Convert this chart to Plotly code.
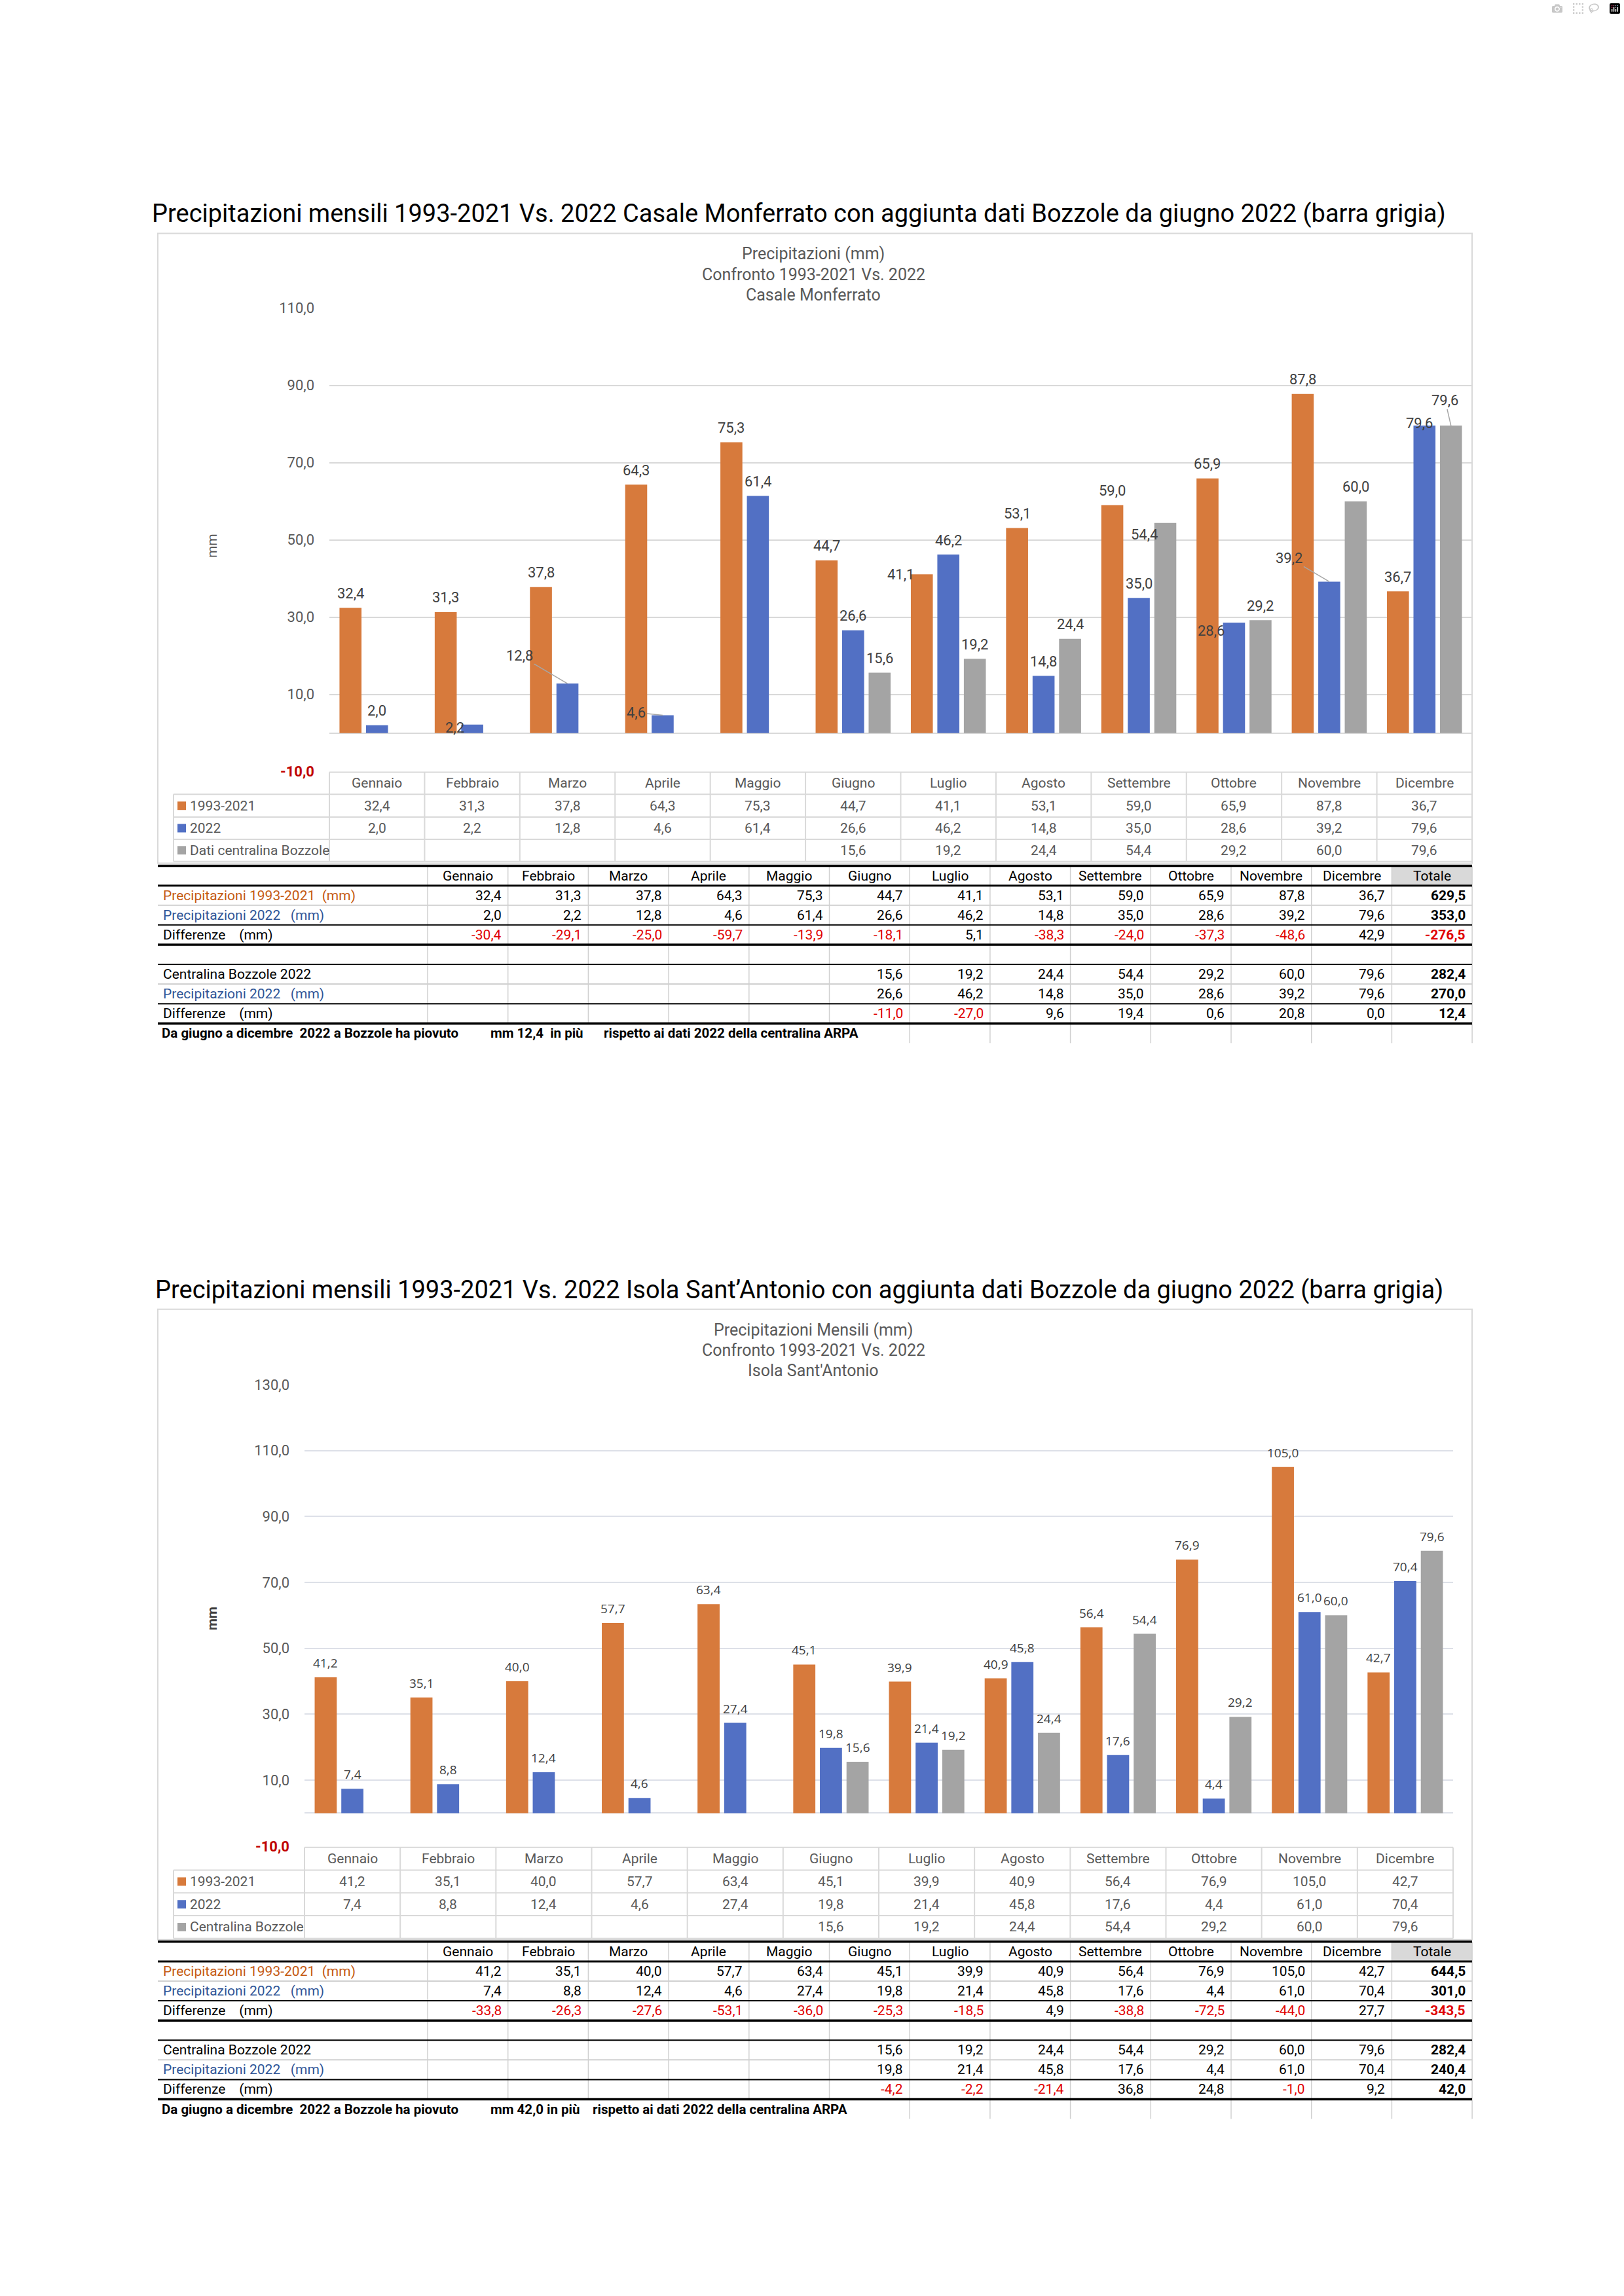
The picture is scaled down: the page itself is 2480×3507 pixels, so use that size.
import plotly.graph_objects as go

W, H = 2480, 3507


def PX(x):
    return x / W


def PY(y):
    return 1 - y / H


NARROW = "Roboto, Liberation Sans, sans-serif"
WIDE = "Open Sans, sans-serif"

# ---------------- DATA ----------------
months = ["Gennaio", "Febbraio", "Marzo", "Aprile", "Maggio", "Giugno", "Luglio",
          "Agosto", "Settembre", "Ottobre", "Novembre", "Dicembre"]
sheet_cols = months + ["Totale"]

casale_1993_2021 = [32.4, 31.3, 37.8, 64.3, 75.3, 44.7, 41.1, 53.1, 59.0, 65.9, 87.8, 36.7]
casale_2022 = [2.0, 2.2, 12.8, 4.6, 61.4, 26.6, 46.2, 14.8, 35.0, 28.6, 39.2, 79.6]
bozzole_2022 = [None, None, None, None, None, 15.6, 19.2, 24.4, 54.4, 29.2, 60.0, 79.6]
casale_diff = [-30.4, -29.1, -25.0, -59.7, -13.9, -18.1, 5.1, -38.3, -24.0, -37.3, -48.6, 42.9]
casale_totals = [629.5, 353.0, -276.5]
casale_bz_2022 = [None, None, None, None, None, 26.6, 46.2, 14.8, 35.0, 28.6, 39.2, 79.6]
casale_bz_diff = [None, None, None, None, None, -11.0, -27.0, 9.6, 19.4, 0.6, 20.8, 0.0]
casale_bz_totals = [282.4, 270.0, 12.4]

isola_1993_2021 = [41.2, 35.1, 40.0, 57.7, 63.4, 45.1, 39.9, 40.9, 56.4, 76.9, 105.0, 42.7]
isola_2022 = [7.4, 8.8, 12.4, 4.6, 27.4, 19.8, 21.4, 45.8, 17.6, 4.4, 61.0, 70.4]
isola_diff = [-33.8, -26.3, -27.6, -53.1, -36.0, -25.3, -18.5, 4.9, -38.8, -72.5, -44.0, 27.7]
isola_totals = [644.5, 301.0, -343.5]
isola_bz_2022 = [None, None, None, None, None, 19.8, 21.4, 45.8, 17.6, 4.4, 61.0, 70.4]
isola_bz_diff = [None, None, None, None, None, -4.2, -2.2, -21.4, 36.8, 24.8, -1.0, 9.2]
isola_bz_totals = [282.4, 240.4, 42.0]

casale_ticks = [-10, 10, 30, 50, 70, 90, 110]
isola_ticks = [-10, 10, 30, 50, 70, 90, 110, 130]

COL_ORANGE = "#D77A3C"
COL_BLUE = "#5270C4"
COL_GRAY = "#A4A4A4"


def fmt(v):
    return ("%.1f" % v).replace(".", ",")


sections = [
    dict(
        title="Precipitazioni mensili 1993-2021 Vs. 2022 Casale Monferrato con aggiunta dati Bozzole da giugno 2022 (barra grigia)",
        title_y=316,
        frame=(241, 347, 2248, 1316),
        chart_titles=["Precipitazioni (mm)", "Confronto 1993-2021 Vs. 2022", "Casale Monferrato"],
        chart_title_y=[378, 410, 442],
        x0=503, x1=2248, y_top=462, y_bot=1175, yr=(-10, 110), ticks=casale_ticks,
        grid="#D9D9D9", mm_y=828, mm_bold=False,
        tlines=[1176, 1210, 1245, 1279, 1313],
        legend=["1993-2021", "2022", "Dati centralina Bozzole"],
        series=[casale_1993_2021, casale_2022, bozzole_2022],
        sheet_y0=1320,
        sheet_rows=[casale_1993_2021 + [casale_totals[0]], casale_2022 + [casale_totals[1]],
                    casale_diff + [casale_totals[2]], None,
                    bozzole_2022 + [casale_bz_totals[0]], casale_bz_2022 + [casale_bz_totals[1]],
                    casale_bz_diff + [casale_bz_totals[2]]],
        note=["Da giugno a dicembre\u00a0\u00a02022 a Bozzole ha piovuto", "mm 12,4\u00a0\u00a0in più",
              "rispetto ai dati 2022 della centralina ARPA"],
        note_x=[245, 747, 920],
        xa="x", ya="y", label_font=NARROW, label_size=22,
    ),
    dict(
        title="Precipitazioni mensili 1993-2021 Vs. 2022 Isola Sant\u2019Antonio con aggiunta dati Bozzole da giugno 2022 (barra grigia)",
        title_y=1972,
        frame=(241, 2002, 2248, 2972),
        chart_titles=["Precipitazioni Mensili (mm)", "Confronto 1993-2021 Vs. 2022", "Isola Sant'Antonio"],
        chart_title_y=[2034, 2065, 2096],
        x0=465, x1=2219, y_top=2118, y_bot=2828, yr=(-10, 130), ticks=isola_ticks,
        grid="#DDE0E8", mm_y=2478, mm_bold=True,
        tlines=[2830, 2865, 2900, 2935, 2970],
        legend=["1993-2021", "2022", "Centralina Bozzole"],
        series=[isola_1993_2021, isola_2022, bozzole_2022],
        sheet_y0=2975,
        sheet_rows=[isola_1993_2021 + [isola_totals[0]], isola_2022 + [isola_totals[1]],
                    isola_diff + [isola_totals[2]], None,
                    bozzole_2022 + [isola_bz_totals[0]], isola_bz_2022 + [isola_bz_totals[1]],
                    isola_bz_diff + [isola_bz_totals[2]]],
        note=["Da giugno a dicembre\u00a0\u00a02022 a Bozzole ha piovuto", "mm 42,0 in più",
              "rispetto ai dati 2022 della centralina ARPA"],
        note_x=[245, 747, 903],
        xa="x2", ya="y2", label_font=WIDE, label_size=19,
    ),
]

# label displacement (style only): (series index, month) -> offsets in px
specials = [
    {
        (1, "Febbraio"): dict(dx=-27, dy=5),
        (1, "Marzo"): dict(ax=-73, ay=-43),
        (1, "Aprile"): dict(ax=-40, ay=-4),
        (0, "Luglio"): dict(dx=-32, dy=0),
        (2, "Settembre"): dict(dx=-32, dy=18),
        (1, "Ottobre"): dict(dx=-35, dy=13),
        (1, "Novembre"): dict(ax=-61, ay=-36),
        (1, "Dicembre"): dict(dx=-8, dy=-4),
        (2, "Dicembre"): dict(ax=-9, ay=-39),
    },
    {},
]

BARGAP = 0.165
BARGROUPGAP = 0.17

fig = go.Figure()
shapes = []
annotations = []


def line(x0, y0, x1, y1, color, width):
    shapes.append(dict(type="line", xref="paper", yref="paper", x0=PX(x0), y0=PY(y0),
                       x1=PX(x1), y1=PY(y1), line=dict(color=color, width=width), layer="above"))


def text(x, y, s, size, color="#000000", xanchor="center", family=NARROW, xref="paper",
         textangle=0):
    annotations.append(dict(x=x if xref != "paper" else PX(x), y=PY(y), xref=xref, yref="paper",
                            text=s, showarrow=False, xanchor=xanchor, yanchor="middle",
                            textangle=textangle,
                            font=dict(family=family, size=size, color=color)))


layout_axes = {}
for si, sec in enumerate(sections):
    xa, ya = sec["xa"], sec["ya"]
    names = sec["legend"]
    colors = [COL_ORANGE, COL_BLUE, COL_GRAY]
    for k in range(3):
        fig.add_trace(go.Bar(x=months, y=sec["series"][k], name=names[k], marker_color=colors[k],
                             marker_line_width=0, xaxis=xa, yaxis=ya, showlegend=False,
                             hoverinfo="skip"))
    xkey = "xaxis" if xa == "x" else "xaxis2"
    ykey = "yaxis" if ya == "y" else "yaxis2"
    ticktext = []
    for t in sec["ticks"]:
        if t < 0:
            ticktext.append("<b><span style='color:#C00000'>" + fmt(t) + "</span></b>")
        else:
            ticktext.append(fmt(t))
    layout_axes[xkey] = dict(domain=[PX(sec["x0"]), PX(sec["x1"])], anchor=ya, type="category",
                             range=[-0.5, 11.5], showticklabels=False, showgrid=False,
                             zeroline=False, showline=False, fixedrange=True)
    layout_axes[ykey] = dict(domain=[PY(sec["y_bot"]), PY(sec["y_top"])], anchor=xa,
                             range=list(sec["yr"]), tickvals=sec["ticks"], ticktext=ticktext,
                             showgrid=True, gridcolor=sec["grid"], gridwidth=2,
                             zeroline=True, zerolinecolor=sec["grid"], zerolinewidth=2,
                             showline=False, ticks="", ticklabelstandoff=22,
                             tickfont=dict(family=NARROW, size=22, color="#595959"),
                             fixedrange=True)

    # main title
    text(1220, sec["title_y"], sec["title"], 38, "#000000")
    # frame
    fx0, fy0, fx1, fy1 = sec["frame"]
    shapes.append(dict(type="rect", xref="paper", yref="paper", x0=PX(fx0), y0=PY(fy0),
                       x1=PX(fx1), y1=PY(fy1), line=dict(color="#D9D9D9", width=2), layer="below"))
    # chart titles
    for s, yy in zip(sec["chart_titles"], sec["chart_title_y"]):
        text(1242, yy, s, 25, "#595959")
    # y axis title
    mm = "<b>mm</b>" if sec["mm_bold"] else "mm"
    text(324, sec["mm_y"], mm, 21, "#595959" if not sec["mm_bold"] else "#404040", textangle=-90)

    # bar labels
    cat_px = (sec["x1"] - sec["x0"]) / 12.0
    slot = cat_px * (1 - BARGAP) / 3.0
    for k in range(3):
        for m, v in zip(months, sec["series"][k]):
            if v is None:
                continue
            sp = specials[si].get((k, m))
            base = dict(x=m, y=v, xref=xa, yref=ya, text=fmt(v),
                        font=dict(family=sec["label_font"], size=sec["label_size"], color="#404040"))
            if sp is None:
                base.update(showarrow=False, xshift=(k - 1) * slot, yshift=22, yanchor="middle")
            elif "ax" in sp:
                base.update(showarrow=True, arrowhead=0, arrowwidth=1.5, arrowcolor="#A6A6A6",
                            ax=sp["ax"], ay=sp["ay"], standoff=0, xshift=(k - 1) * slot)
            else:
                base.update(showarrow=False, xshift=(k - 1) * slot + sp["dx"], yshift=-sp["dy"],
                            yanchor="middle")
            annotations.append(base)

    # chart data table
    tl = sec["tlines"]
    lc = "#D9D9D9"
    line(sec["x0"], tl[0], sec["x1"], tl[0], lc, 2)
    for yy in tl[1:]:
        line(265, yy, sec["x1"], yy, lc, 2)
    line(265, tl[1], 265, tl[4], lc, 2)
    for i in range(13):
        xx = sec["x0"] + i * cat_px
        line(xx, tl[0], xx, tl[4], lc, 2)
    centers = [(tl[i] + tl[i + 1]) / 2 for i in range(4)]
    for m in months:
        text(m, centers[0], m, 21, "#595959", xref=xa)
    for k in range(3):
        cy = centers[k + 1]
        shapes.append(dict(type="rect", xref="paper", yref="paper", x0=PX(271), x1=PX(284),
                           y0=PY(cy + 6.5), y1=PY(cy - 6.5), line=dict(width=0),
                           fillcolor=colors[k], layer="above"))
        text(288, cy, names[k], 21, "#595959", xanchor="left")
        for m, v in zip(months, sec["series"][k]):
            if v is not None:
                text(m, cy, fmt(v), 21, "#595959", xref=xa)

    # spreadsheet
    y0 = sec["sheet_y0"]
    pitch = 30.3
    col_edges = [653 + 122.7 * i for i in range(14)]
    ys = [y0 + k * pitch for k in range(10)]
    shapes.append(dict(type="rect", xref="paper", yref="paper", x0=PX(col_edges[12]),
                       x1=PX(col_edges[13]), y0=PY(ys[1]), y1=PY(ys[0]), line=dict(width=0),
                       fillcolor="#D9D9D9", layer="below"))
    gl = "#D0D0D0"
    for xx in col_edges:
        line(xx, ys[0], xx, ys[8], gl, 1.5)
    for xx in col_edges[6:]:
        line(xx, ys[8], xx, ys[9], gl, 1.5)
    styles = [("#000000", 3.5), ("#000000", 3), (gl, 2), ("#000000", 2), ("#000000", 3.5),
              ("#000000", 2), (gl, 2), ("#000000", 2), ("#000000", 3.5)]
    for k, (c, w) in enumerate(styles):
        line(241, ys[k], 2248, ys[k], c, w)
    rc = [(ys[k] + ys[k + 1]) / 2 for k in range(9)]
    for i, c in enumerate(sheet_cols):
        text((col_edges[i] + col_edges[i + 1]) / 2, rc[0], c, 21, "#000000")
    labels = [("Precipitazioni 1993-2021\u00a0\u00a0(mm)", "#C55A11"),
              ("Precipitazioni 2022\u00a0\u00a0\u00a0(mm)", "#2F5597"),
              ("Differenze\u00a0\u00a0\u00a0\u00a0(mm)", "#000000"), None,
              ("Centralina Bozzole 2022", "#000000"),
              ("Precipitazioni 2022\u00a0\u00a0\u00a0(mm)", "#2F5597"),
              ("Differenze\u00a0\u00a0\u00a0\u00a0(mm)", "#000000")]
    for r, (lab, vals) in enumerate(zip(labels, sec["sheet_rows"])):
        if lab is None:
            continue
        cy = rc[r + 1]
        text(247, cy, lab[0], 21, lab[1], xanchor="left")
        is_diff = r in (2, 6)
        for i, v in enumerate(vals):
            if v is None:
                continue
            s = fmt(v)
            col = "#E00000" if (is_diff and v < 0) else "#000000"
            if i == 12:
                s = "<b>" + s + "</b>"
            text(col_edges[i + 1] - 8, cy, s, 21, col, xanchor="right")
    for s, xx in zip(sec["note"], sec["note_x"]):
        text(xx, rc[8], "<b>" + s + "</b>", 20.5, "#000000", xanchor="left")

fig.update_layout(
    width=W, height=H, autosize=False,
    margin=dict(l=0, r=0, t=0, b=0, pad=0),
    paper_bgcolor="white", plot_bgcolor="rgba(0,0,0,0)",
    barmode="group", bargap=BARGAP, bargroupgap=BARGROUPGAP,
    shapes=shapes, annotations=annotations, showlegend=False,
    **layout_axes,
)

fig.write_html("out.html", post_script="document.body.style.margin='0px';")
